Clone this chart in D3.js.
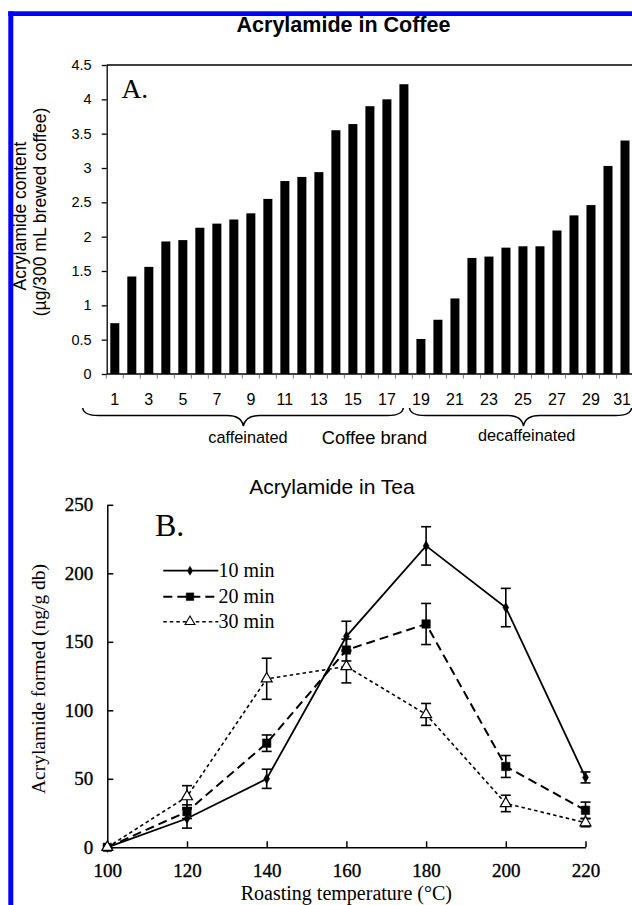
<!DOCTYPE html>
<html>
<head>
<meta charset="utf-8">
<script src="https://cdn.jsdelivr.net/npm/d3@7"></script>
<style>
  html, body { margin: 0; padding: 0; background: #fff; }
  svg { display: block; }
</style>
</head>
<body>
<svg id="fig" width="632" height="905"></svg>
<script>
// ---------- Panel A: acrylamide per coffee brand ----------
const brands = ["1","2","3","4","5","6","7","8","9","10","11","12","13","14","15","16",
                "17","18","19","20","21","22","23","24","25","26","27","28","29","30","31"];
const acrylamideCoffee = [0.74, 1.42, 1.56, 1.93, 1.95, 2.13, 2.19, 2.25, 2.34, 2.55, 2.81, 2.87,
                          2.94, 3.55, 3.64, 3.90, 4.00, 4.22,
                          0.51, 0.79, 1.10, 1.69, 1.71, 1.84, 1.86, 1.86, 2.09, 2.31, 2.46, 3.03, 3.40];
const brandTickLabels = ["1","3","5","7","9","11","13","15","17","19","21","23","25","27","29","31"];
const coffeeTicks = [0, 0.5, 1, 1.5, 2, 2.5, 3, 3.5, 4, 4.5];
const brandGroups = [
  { label: "caffeinated", first: "1", last: "18" },
  { label: "decaffeinated", first: "19", last: "31" }
];

// ---------- Panel B: acrylamide in roasted tea ----------
const roastTemps = [100, 120, 140, 160, 180, 200, 220];
const tea10 = [0, 21, 50, 154, 220, 175, 51];
const tea10Err = [0, 7, 7, 11, 14, 14, 4];
const tea20 = [0, 26, 76, 144, 163, 59, 27];
const tea20Err = [0, 5, 6, 8, 15, 8, 6];
const tea30 = [0, 37, 123, 132, 97, 32, 18];
const tea30Err = [0, 8, 15, 12, 8, 6, 3];
const teaYTicks = [0, 50, 100, 150, 200, 250];
const teaXTicks = [100, 120, 140, 160, 180, 200, 220];
const seriesNames = ["10 min", "20 min", "30 min"];

const SANS = '"Liberation Sans", Arial, Helvetica, sans-serif';
const SERIF = '"Liberation Serif", "Times New Roman", Times, serif';
const W = 632, H = 905;

const svg = d3.select("#fig");
svg.append("rect").attr("width", W).attr("height", H).attr("fill", "#fff");

// ================= Panel A =================
const xA = d3.scaleBand().domain(brands).range([106.3, 633.5]).paddingInner(0.47).paddingOuter(0.235);
const yA = d3.scaleLinear().domain([0, 4.5]).range([374, 65]);
const axisXA = 106.7;

const gA = svg.append("g");

gA.append("text")
  .attr("x", 343.5).attr("y", 31.5)
  .attr("text-anchor", "middle")
  .attr("font-family", SANS).attr("font-weight", "bold").attr("font-size", 21.5)
  .text("Acrylamide in Coffee");

// bars
gA.append("g").selectAll("rect")
  .data(brands.map((b, i) => ({ brand: b, value: acrylamideCoffee[i] })))
  .join("rect")
  .attr("x", d => xA(d.brand))
  .attr("width", xA.bandwidth())
  .attr("y", d => yA(d.value))
  .attr("height", d => yA(0) - yA(d.value))
  .attr("fill", "#000");

// y axis
const yAxisA = gA.append("g")
  .attr("transform", `translate(${axisXA},0)`)
  .call(d3.axisLeft(yA).tickValues(coffeeTicks).tickSize(5).tickSizeOuter(0).tickPadding(10)
        .tickFormat(d => String(d)));
yAxisA.attr("font-family", SANS).attr("font-size", 14.5);
yAxisA.selectAll("path, line").attr("stroke", "#000").attr("stroke-width", 1.3);
yAxisA.selectAll("text").attr("fill", "#000");

// top frame edge
gA.append("line")
  .attr("x1", axisXA).attr("x2", W).attr("y1", yA(4.5)).attr("y2", yA(4.5))
  .attr("stroke", "#000").attr("stroke-width", 1.3);

// x axis baseline and category separators
gA.append("line")
  .attr("x1", axisXA).attr("x2", W).attr("y1", yA(0)).attr("y2", yA(0))
  .attr("stroke", "#000").attr("stroke-width", 1.3);
const boundaries = brands.map(b => xA(b) + xA.bandwidth() / 2 - xA.step() / 2);
gA.append("g").selectAll("line")
  .data(boundaries)
  .join("line")
  .attr("x1", d => d).attr("x2", d => d)
  .attr("y1", yA(0)).attr("y2", yA(0) + 4.5)
  .attr("stroke", "#555").attr("stroke-width", 0.8);

// brand labels; the last one is kept inside the page edge
gA.append("g").selectAll("text")
  .data(brandTickLabels)
  .join("text")
  .attr("y", 404.5)
  .attr("text-anchor", "middle")
  .attr("font-family", SANS).attr("font-size", 16)
  .text(d => d)
  .attr("x", function (d) {
    const cx = xA(d) + xA.bandwidth() / 2;
    const half = this.getComputedTextLength() / 2;
    return Math.min(cx, W - 1 - half);
  });

// braces grouping the brands
const braceGeom = [
  { x1: 82.7, x2: 403.3, tip: 243.3, label: 248, labelY: 443 },
  { x1: 409.5, x2: 631.5, tip: 523.5, label: 526.7, labelY: 441 }
];
function bracePath(x1, x2, xm, y0, y1, y2, r) {
  const p = d3.path();
  p.moveTo(x1, y0);
  p.quadraticCurveTo(x1 + 1, y1, x1 + r, y1);
  p.lineTo(xm - r, y1);
  p.quadraticCurveTo(xm - 2, y1, xm, y2);
  p.quadraticCurveTo(xm + 2, y1, xm + r, y1);
  p.lineTo(x2 - r, y1);
  p.quadraticCurveTo(x2 - 1, y1, x2, y0);
  return p.toString();
}
brandGroups.forEach((g, i) => {
  const b = braceGeom[i];
  gA.append("path")
    .attr("d", bracePath(b.x1, b.x2, b.tip, 408, 415.5, 426, 16))
    .attr("fill", "none").attr("stroke", "#000").attr("stroke-width", 1.5);
  gA.append("text")
    .attr("x", b.label).attr("y", b.labelY)
    .attr("text-anchor", "middle")
    .attr("font-family", SANS).attr("font-size", 16.3)
    .text(g.label);
});
gA.append("text")
  .attr("x", 374.5).attr("y", 443.5)
  .attr("text-anchor", "middle")
  .attr("font-family", SANS).attr("font-size", 18.3)
  .text("Coffee brand");

// y axis title (two lines)
gA.append("text")
  .attr("transform", "translate(26,216) rotate(-90)")
  .attr("text-anchor", "middle")
  .attr("font-family", SANS).attr("font-size", 17.5)
  .text("Acrylamide content");
gA.append("text")
  .attr("transform", "translate(45.5,212) rotate(-90)")
  .attr("text-anchor", "middle")
  .attr("font-family", SANS).attr("font-size", 17.5)
  .text("(\u00b5g/300 mL brewed coffee)");

gA.append("text")
  .attr("x", 121.5).attr("y", 98.3)
  .attr("font-family", SERIF).attr("font-size", 27.5)
  .text("A.");

// ================= Panel B =================
const xB = d3.scaleLinear().domain([100, 220]).range([107.3, 585.5]);
const yB = d3.scaleLinear().domain([0, 250]).range([847.3, 504.8]);
const gB = svg.append("g");

gB.append("text")
  .attr("x", 332).attr("y", 494)
  .attr("text-anchor", "middle")
  .attr("font-family", SANS).attr("font-size", 21)
  .text("Acrylamide in Tea");

const yAxisB = gB.append("g")
  .attr("transform", `translate(${xB(100)},0)`)
  .call(d3.axisLeft(yB).tickValues(teaYTicks).tickSize(-6).tickSizeOuter(0).tickPadding(14)
        .tickFormat(d3.format("d")));
const xAxisB = gB.append("g")
  .attr("transform", `translate(0,${yB(0)})`)
  .call(d3.axisBottom(xB).tickValues(teaXTicks).tickSize(-6).tickSizeOuter(0).tickPadding(16)
        .tickFormat(d3.format("d")));
[yAxisB, xAxisB].forEach(a => {
  a.attr("font-family", SERIF).attr("font-size", 19);
  a.selectAll("path, line").attr("stroke", "#000").attr("stroke-width", 1.5);
  a.selectAll("text").attr("fill", "#000").attr("stroke", "#000").attr("stroke-width", 0.35);
});

gB.append("text")
  .attr("x", 346.4).attr("y", 900)
  .attr("text-anchor", "middle")
  .attr("font-family", SERIF).attr("font-size", 20)
  .text("Roasting temperature (\u00b0C)");
gB.append("text")
  .attr("transform", "translate(45,679) rotate(-90)")
  .attr("text-anchor", "middle")
  .attr("font-family", SERIF).attr("font-size", 19.5)
  .text("Acrylamide formed (ng/g db)");

gB.append("text")
  .attr("x", 155).attr("y", 536)
  .attr("font-family", SERIF).attr("font-size", 32)
  .text("B.");

const series = [
  { name: seriesNames[0], values: tea10, errors: tea10Err, dash: null, width: 1.8,
    symbol: d3.symbolDiamond, size: 30, fill: "#000" },
  { name: seriesNames[1], values: tea20, errors: tea20Err, dash: "9,5", width: 2,
    symbol: d3.symbolSquare, size: 72, fill: "#000" },
  { name: seriesNames[2], values: tea30, errors: tea30Err, dash: "3.5,3", width: 1.6,
    symbol: d3.symbolTriangle, size: 52, fill: "#fff" }
];

const line = d3.line().x(d => xB(d.t)).y(d => yB(d.v));

// lines first, then error bars and markers on top
series.forEach(s => {
  const pts = roastTemps.map((t, i) => ({ t, v: s.values[i], e: s.errors[i] }));
  gB.append("path")
    .datum(pts)
    .attr("d", line)
    .attr("fill", "none").attr("stroke", "#000")
    .attr("stroke-width", s.width)
    .attr("stroke-dasharray", s.dash);
});
series.forEach(s => {
  const pts = roastTemps.map((t, i) => ({ t, v: s.values[i], e: s.errors[i] })).filter(d => d.e > 0);
  const eb = gB.append("g").attr("stroke", "#000").attr("stroke-width", 1.6);
  eb.selectAll("line.v").data(pts).join("line").attr("class", "v")
    .attr("x1", d => xB(d.t)).attr("x2", d => xB(d.t))
    .attr("y1", d => yB(d.v - d.e)).attr("y2", d => yB(d.v + d.e));
  eb.selectAll("line.top").data(pts).join("line").attr("class", "top")
    .attr("x1", d => xB(d.t) - 5).attr("x2", d => xB(d.t) + 5)
    .attr("y1", d => yB(d.v + d.e)).attr("y2", d => yB(d.v + d.e));
  eb.selectAll("line.bot").data(pts).join("line").attr("class", "bot")
    .attr("x1", d => xB(d.t) - 5).attr("x2", d => xB(d.t) + 5)
    .attr("y1", d => yB(d.v - d.e)).attr("y2", d => yB(d.v - d.e));
});
series.forEach(s => {
  const pts = roastTemps.map((t, i) => ({ t, v: s.values[i] }));
  gB.append("g").selectAll("path")
    .data(pts)
    .join("path")
    .attr("transform", d => `translate(${xB(d.t)},${yB(d.v)})`)
    .attr("d", d3.symbol().type(s.symbol).size(s.size))
    .attr("fill", s.fill).attr("stroke", "#000").attr("stroke-width", s.fill === "#fff" ? 1.2 : 0.5);
});

// legend
const legendRows = [570.7, 596.7, 621.7];
series.forEach((s, i) => {
  const g = gB.append("g").attr("transform", `translate(0,${legendRows[i]})`);
  g.append("line")
    .attr("x1", 163.3).attr("x2", 218.3).attr("y1", 0).attr("y2", 0)
    .attr("stroke", "#000").attr("stroke-width", s.width)
    .attr("stroke-dasharray", s.dash);
  g.append("path")
    .attr("transform", "translate(190,0)")
    .attr("d", d3.symbol().type(s.symbol).size(s.size * 0.8))
    .attr("fill", s.fill).attr("stroke", "#000").attr("stroke-width", s.fill === "#fff" ? 1.1 : 0.5);
  g.append("text")
    .attr("x", 218.5).attr("y", 6.3)
    .attr("font-family", SERIF).attr("font-size", 20)
    .text(s.name);
});

// blue frame along the top and left edges
svg.append("rect").attr("x", 8.3).attr("y", 11.3).attr("width", W).attr("height", 4.7).attr("fill", "#0000ff");
svg.append("rect").attr("x", 8.3).attr("y", 11.3).attr("width", 5).attr("height", H).attr("fill", "#0000ff");
</script>
</body>
</html>
